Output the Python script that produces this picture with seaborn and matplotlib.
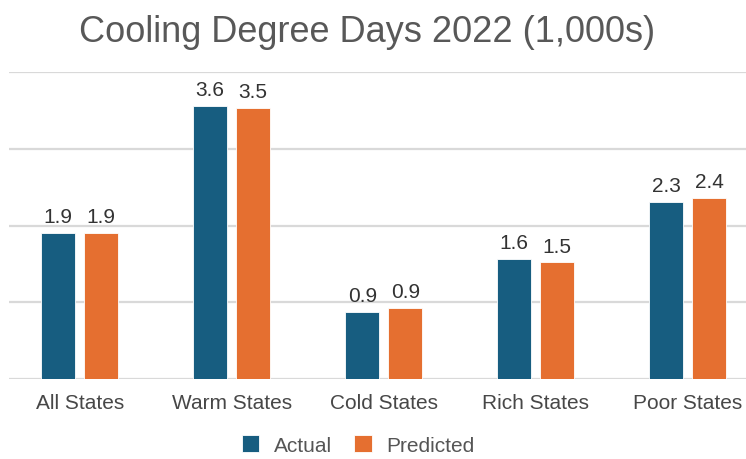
import matplotlib
matplotlib.use("Agg")
import matplotlib.pyplot as plt
import seaborn as sns
import pandas as pd

# Cooling degree days in 2022, thousands
categories = ["All States", "Warm States", "Cold States", "Rich States", "Poor States"]
actual = [1.90, 3.56, 0.87, 1.56, 2.31]
predicted = [1.91, 3.53, 0.93, 1.52, 2.36]
series_names = ["Actual", "Predicted"]
colors = ["#175d80", "#e56f30"]

df = pd.DataFrame({
    "State group": categories * 2,
    "CDD": actual + predicted,
    "Series": [series_names[0]] * len(categories) + [series_names[1]] * len(categories),
})

sns.set_theme(style="white")
plt.rcParams["font.family"] = ["Liberation Sans", "DejaVu Sans"]

fig = plt.figure(figsize=(7.46, 4.60), dpi=100)
fig.patch.set_facecolor("#ffffff")
ax = fig.add_axes([9 / 746, 80 / 460, 737 / 746, 306.7 / 460])

sns.barplot(data=df, x="State group", y="CDD", hue="Series", order=categories,
            hue_order=series_names, palette=colors, width=0.566, gap=0.209,
            saturation=1, edgecolor="white", linewidth=0.6, ax=ax, zorder=3)

for cont in ax.containers:
    ax.bar_label(cont, fmt="%.1f", padding=5, fontsize=15, color="#333333")

ax.set_ylim(0, 4)
ax.set_xlim(-0.465, 4.383)
ax.set_yticks([0, 1, 2, 3, 4])
ax.set_yticklabels([])
ax.yaxis.grid(True, color="#d9d9d9", linewidth=1.6, zorder=0)
ax.xaxis.grid(False)
for s in ax.spines.values():
    s.set_visible(False)
ax.tick_params(axis="y", length=0)
ax.tick_params(axis="x", length=0, pad=10, labelsize=15, labelcolor="#474747")
ax.set_xlabel("")
ax.set_ylabel("")
ax.set_facecolor("none")

fig.text(367 / 746, 1 - 32 / 460, "Cooling Degree Days 2022 (1,000s)", ha="center", va="center",
         fontsize=26, color="#585858")

handles, labels = ax.get_legend_handles_labels()
ax.legend(handles, labels, loc="center", bbox_to_anchor=(358 / 746, 1 - 446 / 460),
          bbox_transform=fig.transFigure, ncol=2, frameon=False, fontsize=15,
          handlelength=0.85, handleheight=0.85, handletextpad=0.7, columnspacing=1.05,
          labelcolor="#555555")

fig.savefig("out.png", dpi=100)
